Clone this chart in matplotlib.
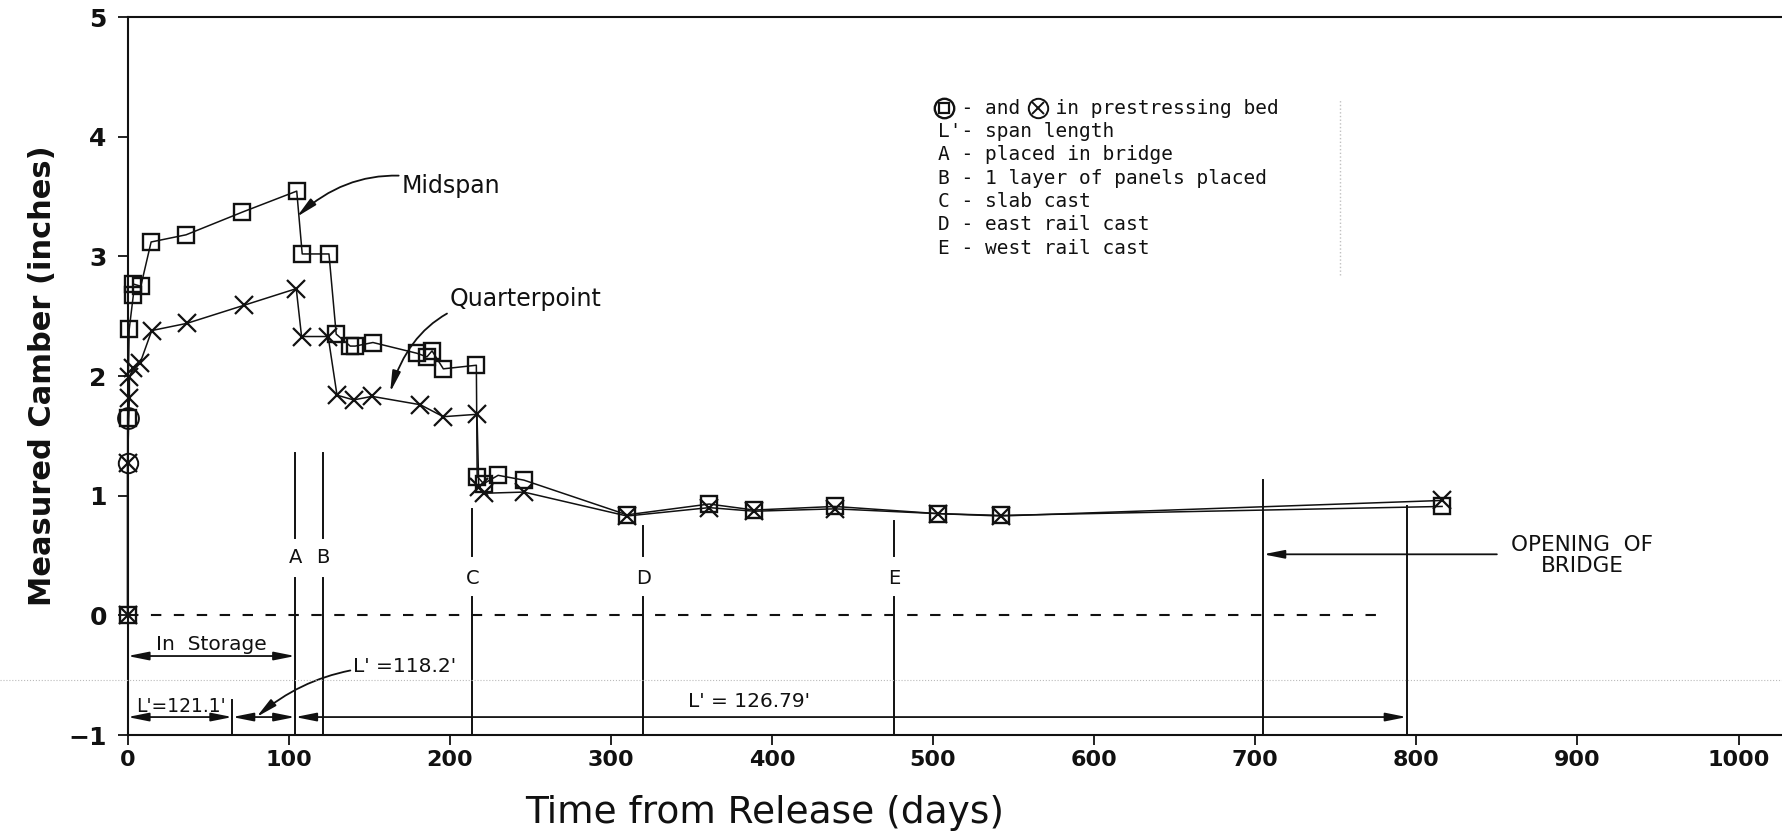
import matplotlib
matplotlib.use("Agg")
import matplotlib.pyplot as plt
from matplotlib.lines import Line2D

# Midspan camber (squares), first point after 0 is the prestressing-bed reading
mid_days = [0, 0, 1, 3.6, 3.2, 8.2, 14.6, 36.3, 71.3, 105, 108.4, 125, 129.5,
            138.2, 141.3, 152.3, 179.6, 185.8, 189, 196, 216.5, 217, 221, 230,
            246, 310, 361, 389, 439, 503, 542, 816]
mid_camber = [0, 1.65, 2.39, 2.68, 2.77, 2.75, 3.12, 3.18, 3.37, 3.545, 3.02,
              3.02, 2.35, 2.25, 2.25, 2.28, 2.19, 2.16, 2.21, 2.06, 2.09, 1.16,
              1.10, 1.17, 1.13, 0.84, 0.93, 0.88, 0.91, 0.85, 0.835, 0.91]

# Quarterpoint camber (crosses)
qtr_days = [0, 0, 1.1, 1.1, 3.4, 7.8, 15, 36.8, 72, 104.7, 108, 124.5, 130,
            140.3, 151.7, 181.7, 196, 216.9, 218, 221, 246, 310, 361, 389, 439,
            503, 542, 816]
qtr_camber = [0, 1.27, 1.82, 1.99, 2.07, 2.11, 2.38, 2.44, 2.59, 2.73, 2.33,
              2.33, 1.84, 1.80, 1.83, 1.76, 1.66, 1.68, 1.07, 1.02, 1.03, 0.83,
              0.90, 0.87, 0.89, 0.85, 0.83, 0.96]

# readings taken in the prestressing bed
bed_mid = 1.65
bed_qtr = 1.27

# events
event_labels = ["A", "B", "C", "D", "E"]
event_days = [104, 121, 214, 320, 476]
event_tops = [1.36, 1.36, 0.89, 0.75, 0.79]
opening_day = 705
end_day = 794
span_marks = [0, 65, 104, 794]
span_labels = ["L'=121.1'", "L' =118.2'", "L' = 126.79'"]

legend_lines = ["  - and   in prestressing bed",
                "L'- span length",
                "A - placed in bridge",
                "B - 1 layer of panels placed",
                "C - slab cast",
                "D - east rail cast",
                "E - west rail cast"]

ink = "#111111"

fig = plt.figure(figsize=(17.82, 8.34), dpi=100)
ax = fig.add_axes([0.0716, 0.1187, 0.9284, 0.8609])

# data
ax.plot(mid_days, mid_camber, color=ink, lw=1.1, marker="s", ms=12,
        mfc="none", mec=ink, mew=1.7, clip_on=False, zorder=3)
ax.plot(qtr_days, qtr_camber, color=ink, lw=1.1, marker="x", ms=12.5,
        mec=ink, mew=1.6, clip_on=False, zorder=3)
ax.plot([0], [bed_mid], marker="o", ms=15, mfc="none", mec=ink, mew=1.4,
        clip_on=False, zorder=4)
ax.plot([0], [bed_qtr], marker="o", ms=14, mfc="none", mec=ink, mew=1.4,
        clip_on=False, zorder=4)

# zero line
ax.plot([0, 781], [0, 0], color=ink, lw=1.5, dashes=(5, 6))

# event lines with letters
for lab, d, top in zip(event_labels, event_days, event_tops):
    if lab in ("A", "B"):
        ax.plot([d, d], [top, 0.65], color=ink, lw=1.4)
        ax.plot([d, d], [0.31, -1], color=ink, lw=1.4)
        ax.text(d, 0.48, lab, ha="center", va="center", fontsize=14, color=ink)
    else:
        ax.plot([d, d], [top, 0.5], color=ink, lw=1.4)
        ax.plot([d, d], [0.15, -1], color=ink, lw=1.4)
        ax.text(d, 0.31, lab, ha="center", va="center", fontsize=14, color=ink)

ax.plot([opening_day, opening_day], [1.13, -1], color=ink, lw=1.4)
ax.plot([end_day, end_day], [0.91, -1], color=ink, lw=1.4)
ax.plot([span_marks[1], span_marks[1]], [-0.71, -1], color=ink, lw=1.4)

arrow = dict(arrowstyle="-|>,head_length=0.9,head_width=0.18", color=ink,
             lw=1.3, shrinkA=0, shrinkB=0, mutation_scale=14)
arrow2 = dict(arrowstyle="<|-|>,head_length=0.9,head_width=0.18", color=ink,
              lw=1.3, shrinkA=0, shrinkB=0, mutation_scale=14)

ax.text(903, 0.50, "OPENING  OF\nBRIDGE", ha="center", va="center",
        fontsize=15.5, color=ink, linespacing=1.1)
ax.annotate("", xy=(opening_day, 0.51), xytext=(850, 0.51),
            arrowprops=arrow)

# storage / span arrows
ax.annotate("", xy=(0, -0.34), xytext=(event_days[0], -0.34), arrowprops=arrow2)
ax.text(52, -0.24, "In  Storage", ha="center", va="center", fontsize=14.5,
        color=ink)
for a, b in zip(span_marks[:-1], span_marks[1:]):
    ax.annotate("", xy=(a, -0.85), xytext=(b, -0.85), arrowprops=arrow2)
ax.text(33, -0.76, span_labels[0], ha="center", va="center", fontsize=13.5,
        color=ink)
ax.annotate(span_labels[1], xy=(80, -0.85), xytext=(140, -0.43),
            ha="left", va="center", fontsize=14.5, color=ink,
            arrowprops=dict(arrow, connectionstyle="arc3,rad=0.2"))
ax.text(386, -0.72, span_labels[2], ha="center", va="center", fontsize=14.5,
        color=ink)

# series callouts
ax.annotate("Midspan", xy=(105, 3.33), xytext=(170, 3.59), ha="left",
            va="center", fontsize=17, color=ink,
            arrowprops=dict(arrow, connectionstyle="arc3,rad=0.3"))
ax.annotate("Quarterpoint", xy=(163, 1.865), xytext=(200, 2.645), ha="left",
            va="center", fontsize=17, color=ink,
            arrowprops=dict(arrow, connectionstyle="arc3,rad=0.4"))

# legend block
leg_x, leg_y, leg_step, leg_size = 0.49, 0.873, 0.0325, 14
for i, line in enumerate(legend_lines):
    ax.text(leg_x, leg_y - i * leg_step, line, transform=ax.transAxes,
            ha="left", va="center", fontsize=leg_size, color=ink,
            family="DejaVu Sans Mono")
# width of one monospace character as a fraction of the axes width
char_w = 0.602 * leg_size / 72 * fig.dpi / (ax.get_position().width * fig.bbox.width)
key_a = leg_x + 0.5 * char_w
key_b = leg_x + 8.5 * char_w
ax.plot([key_a], [leg_y], transform=ax.transAxes, marker="o", ms=14,
        mfc="none", mec=ink, mew=1.7, clip_on=False)
ax.plot([key_a], [leg_y], transform=ax.transAxes, marker="s", ms=7.5,
        mfc="none", mec=ink, mew=1.6, clip_on=False)
ax.plot([key_b], [leg_y], transform=ax.transAxes, marker="o", ms=14,
        mfc="none", mec=ink, mew=1.4, clip_on=False)
ax.plot([key_b], [leg_y], transform=ax.transAxes, marker="x", ms=8,
        mec=ink, mew=1.4, clip_on=False)
ax.add_line(Line2D([0.7326, 0.7326], [0.64, 0.885], transform=ax.transAxes,
                   color="#c0c0c0", lw=1, ls=":"))

# axes
ax.set_xlim(0, 1027)
ax.set_ylim(-1, 5)
ax.spines["right"].set_visible(False)
for s in ("left", "top", "bottom"):
    ax.spines[s].set_linewidth(1.5)
    ax.spines[s].set_color(ink)
ax.set_xticks(range(0, 1001, 100))
ax.set_yticks(range(-1, 6))
ax.tick_params(direction="out", length=7, width=1.3, colors=ink)
ax.tick_params(axis="x", pad=4, labelsize=16)
ax.tick_params(axis="y", pad=8, labelsize=18)
for t in ax.get_xticklabels() + ax.get_yticklabels():
    t.set_fontweight("bold")

fig.text(0.024, 0.55, "Measured Camber (inches)", rotation=90, ha="center",
         va="center", fontsize=22, fontweight="bold", color=ink)
fig.text(0.429, 0.025, "Time from Release (days)", ha="center", va="center",
         fontsize=27, color=ink)

# faint scan line across the page
fig.add_artist(Line2D([0, 1], [0.185, 0.185], transform=fig.transFigure,
                      color="#bbbbbb", lw=0.8, ls=":"))

fig.savefig("out.png", dpi=100)
